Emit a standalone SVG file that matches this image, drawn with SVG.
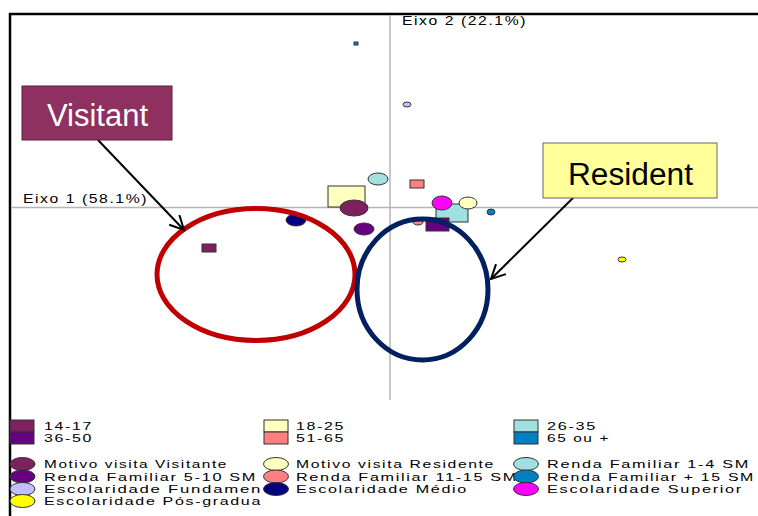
<svg xmlns="http://www.w3.org/2000/svg" width="758" height="516" viewBox="0 0 758 516">
<style>
text{font-family:"Liberation Sans",Arial,sans-serif;fill:#000}
.lg{font-size:11.5px;letter-spacing:1.2px}
.ax{font-size:12px;letter-spacing:1.2px}
.pt{stroke:#333;stroke-width:1}
.axis{stroke:#b4b4b4;stroke-width:1.5;fill:none}
.arrow{stroke:#000;stroke-width:2;fill:none}
</style>
<defs>
<marker id="open" viewBox="0 0 16 16" refX="15" refY="8" markerWidth="16" markerHeight="16" markerUnits="userSpaceOnUse" orient="auto">
<path d="M1,1 L15,8 L1,15" fill="none" stroke="#000" stroke-width="2"/>
</marker>
</defs>
<rect x="0" y="0" width="758" height="516" fill="#fff"/>
<path d="M10,516 V14 H758" fill="none" stroke="#000" stroke-width="2.5"/>
<g id="axes">
<line class="axis" x1="390" y1="15" x2="390" y2="400"/>
<line class="axis" x1="11" y1="207.5" x2="758" y2="207.5"/>
<text class="ax" x="402" y="25" textLength="125" lengthAdjust="spacingAndGlyphs">Eixo 2 (22.1%)</text>
<text class="ax" x="23" y="203" textLength="125" lengthAdjust="spacingAndGlyphs">Eixo 1 (58.1%)</text>
</g>
<g id="points">
<rect class="pt" x="202" y="244" width="14" height="8" fill="#7f2060"/>
<rect class="pt" x="328" y="186" width="37" height="21" fill="#ffffc0"/>
<rect class="pt" x="436" y="204" width="32" height="18" fill="#a0e0e0"/>
<rect class="pt" x="410" y="180" width="14" height="8" fill="#ff8080"/>
<rect class="pt" x="354" y="42" width="4" height="3" fill="#0080c0"/>
<ellipse class="pt" cx="418" cy="222" rx="5" ry="3" fill="#ff8080"/>
<rect class="pt" x="426" y="218" width="23" height="13" fill="#660080"/>
<ellipse class="pt" cx="354" cy="208" rx="14" ry="8" fill="#7f2060"/>
<ellipse class="pt" cx="468" cy="203" rx="9" ry="6" fill="#ffffc0"/>
<ellipse class="pt" cx="378" cy="179" rx="10" ry="6" fill="#a0e0e0"/>
<ellipse class="pt" cx="364" cy="229" rx="10" ry="6" fill="#660080"/>
<ellipse class="pt" cx="491" cy="212" rx="4" ry="3" fill="#0080c0"/>
<ellipse class="pt" cx="407" cy="104.5" rx="4" ry="2.5" fill="#c0c0ff"/>
<ellipse class="pt" cx="296" cy="220" rx="10" ry="6" fill="#000080"/>
<ellipse class="pt" cx="442" cy="203" rx="10" ry="7" fill="#ff00ff"/>
<ellipse class="pt" cx="622" cy="259.5" rx="4" ry="2.5" fill="#ffff00"/>
</g>
<g id="visitant-cluster">
<ellipse cx="256" cy="274.5" rx="99" ry="66" fill="none" stroke="#c00000" stroke-width="5"/>
</g>
<g id="resident-cluster">
<ellipse cx="422.5" cy="289.5" rx="65.5" ry="70.5" fill="none" stroke="#002060" stroke-width="5"/>
</g>
<g id="connectors">
<line class="arrow" x1="98" y1="140" x2="184" y2="230" marker-end="url(#open)"/>
<line class="arrow" x1="577" y1="194" x2="491" y2="279" marker-end="url(#open)"/>
</g>
<g id="visitant">
<rect x="22" y="86" width="150" height="54" fill="#8e3060" stroke="#5a2040" stroke-width="1"/>
<text x="47" y="126" font-size="31" textLength="101" lengthAdjust="spacingAndGlyphs" style="fill:#fff">Visitant</text>
</g>
<g id="resident">
<rect x="543" y="143" width="174" height="55" fill="#ffff99" stroke="#666" stroke-width="1"/>
<text x="568" y="185" font-size="31" textLength="125" lengthAdjust="spacingAndGlyphs">Resident</text>
</g>
<g id="legend">
<rect class="pt" x="10" y="420" width="24" height="12" fill="#7f2060"/>
<rect class="pt" x="10" y="432" width="24" height="12" fill="#660080"/>
<rect class="pt" x="264" y="420" width="24" height="12" fill="#ffffc0"/>
<rect class="pt" x="264" y="432" width="24" height="12" fill="#ff8080"/>
<rect class="pt" x="514" y="420" width="24" height="12" fill="#a0e0e0"/>
<rect class="pt" x="514" y="432" width="24" height="12" fill="#0080c0"/>
<text class="lg" x="44" y="430" textLength="49" lengthAdjust="spacingAndGlyphs">14-17</text>
<text class="lg" x="44" y="442" textLength="49" lengthAdjust="spacingAndGlyphs">36-50</text>
<text class="lg" x="296" y="430" textLength="49" lengthAdjust="spacingAndGlyphs">18-25</text>
<text class="lg" x="296" y="442" textLength="49" lengthAdjust="spacingAndGlyphs">51-65</text>
<text class="lg" x="547" y="430" textLength="50" lengthAdjust="spacingAndGlyphs">26-35</text>
<text class="lg" x="547" y="442" textLength="63" lengthAdjust="spacingAndGlyphs">65 ou +</text>
<text class="lg" x="44" y="468" textLength="184" lengthAdjust="spacingAndGlyphs">Motivo visita Visitante</text>
<text class="lg" x="44" y="480.5" textLength="213" lengthAdjust="spacingAndGlyphs">Renda Familiar 5-10 SM</text>
<text class="lg" x="44" y="493" textLength="218" lengthAdjust="spacingAndGlyphs">Escolaridade Fundamen</text>
<text class="lg" x="44" y="505" textLength="218" lengthAdjust="spacingAndGlyphs">Escolaridade Pós-gradua</text>
<text class="lg" x="296" y="468" textLength="199" lengthAdjust="spacingAndGlyphs">Motivo visita Residente</text>
<text class="lg" x="296" y="480.5" textLength="222" lengthAdjust="spacingAndGlyphs">Renda Familiar 11-15 SM</text>
<text class="lg" x="296" y="493" textLength="172" lengthAdjust="spacingAndGlyphs">Escolaridade Médio</text>
<text class="lg" x="547" y="468" textLength="203" lengthAdjust="spacingAndGlyphs">Renda Familiar 1-4 SM</text>
<text class="lg" x="547" y="480.5" textLength="208" lengthAdjust="spacingAndGlyphs">Renda Familiar + 15 SM</text>
<text class="lg" x="547" y="493" textLength="196" lengthAdjust="spacingAndGlyphs">Escolaridade Superior</text>
<ellipse class="pt" cx="22.5" cy="464" rx="12.5" ry="6.5" fill="#7f2060"/>
<ellipse class="pt" cx="22.5" cy="476.5" rx="12.5" ry="6.5" fill="#660080"/>
<ellipse class="pt" cx="22.5" cy="489" rx="12.5" ry="6.5" fill="#c0c0ff"/>
<ellipse class="pt" cx="22.5" cy="501" rx="12.5" ry="6.5" fill="#ffff00"/>
<ellipse class="pt" cx="276" cy="464" rx="12.5" ry="6.5" fill="#ffffc0"/>
<ellipse class="pt" cx="276" cy="476.5" rx="12.5" ry="6.5" fill="#ff8080"/>
<ellipse class="pt" cx="276" cy="489" rx="12.5" ry="6.5" fill="#000080"/>
<ellipse class="pt" cx="526" cy="464" rx="12.5" ry="6.5" fill="#a0e0e0"/>
<ellipse class="pt" cx="526" cy="476.5" rx="12.5" ry="6.5" fill="#0080c0"/>
<ellipse class="pt" cx="526" cy="489" rx="12.5" ry="6.5" fill="#ff00ff"/>
</g>
</svg>
